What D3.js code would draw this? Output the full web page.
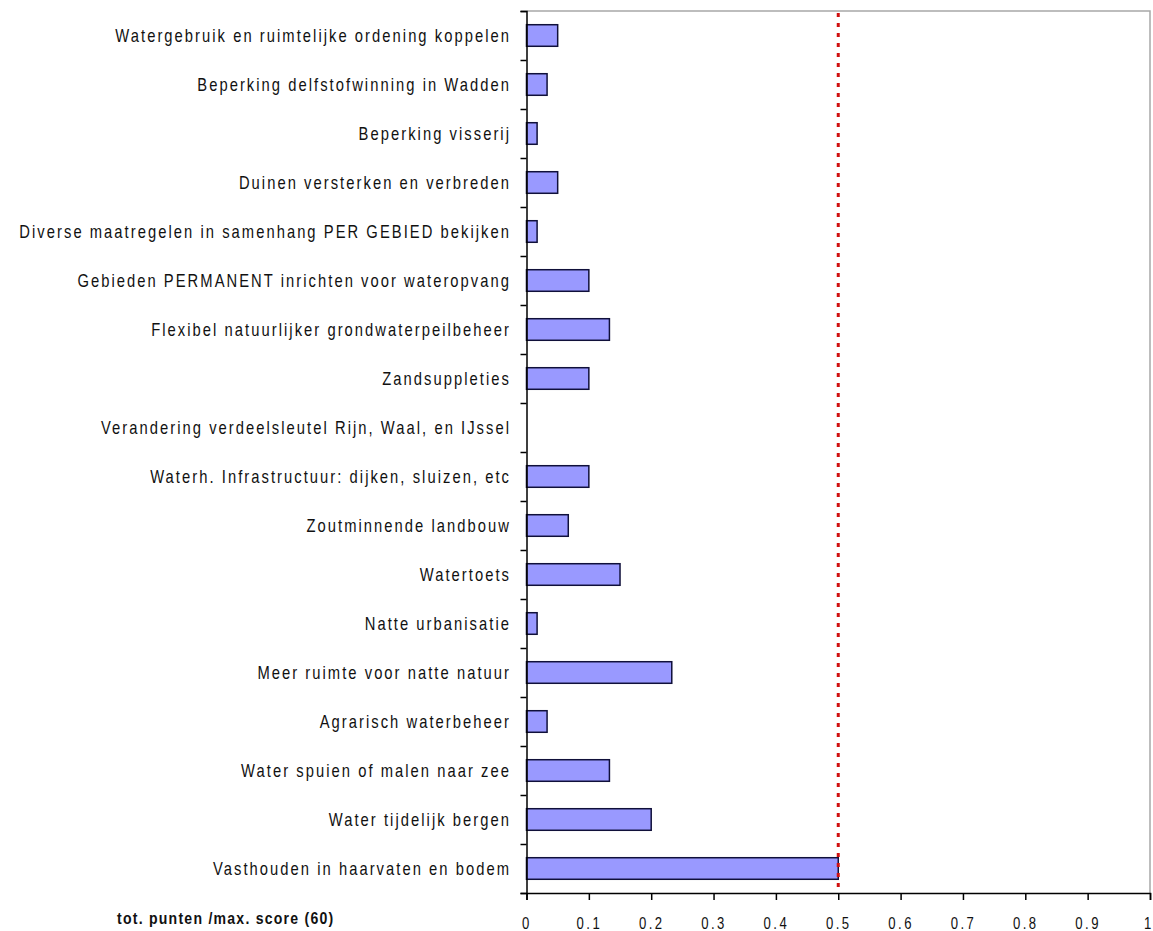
<!DOCTYPE html>
<html>
<head>
<meta charset="utf-8">
<script src="https://cdn.jsdelivr.net/npm/d3@7"></script>
<style>
  body { margin: 0; background: #fff; }
  svg { display: block; }
</style>
</head>
<body>
<div id="chart"></div>
<script>
// categories top to bottom, scores as fraction of max score (60)
const categories = [
  'Watergebruik en ruimtelijke ordening koppelen',
  'Beperking delfstofwinning in Wadden',
  'Beperking visserij',
  'Duinen versterken en verbreden',
  'Diverse maatregelen in samenhang PER GEBIED bekijken',
  'Gebieden PERMANENT inrichten voor wateropvang',
  'Flexibel natuurlijker grondwaterpeilbeheer',
  'Zandsuppleties',
  'Verandering verdeelsleutel Rijn, Waal, en IJssel',
  'Waterh. Infrastructuur: dijken, sluizen, etc',
  'Zoutminnende landbouw',
  'Watertoets',
  'Natte urbanisatie',
  'Meer ruimte voor natte natuur',
  'Agrarisch waterbeheer',
  'Water spuien of malen naar zee',
  'Water tijdelijk bergen',
  'Vasthouden in haarvaten en bodem'
];
const values = [0.05, 0.033, 0.017, 0.05, 0.017, 0.1, 0.133, 0.1, 0, 0.1, 0.067, 0.15, 0.017, 0.233, 0.033, 0.133, 0.2, 0.5];
const xTicks = [0, 0.1, 0.2, 0.3, 0.4, 0.5, 0.6, 0.7, 0.8, 0.9, 1];
const tickLabels = ['0', '0.1', '0.2', '0.3', '0.4', '0.5', '0.6', '0.7', '0.8', '0.9', '1'];
const refLine = 0.5;
const axisTitle = 'tot. punten /max. score (60)';

const width = 1153, height = 931;
const margin = { top: 11, right: 3, bottom: 38, left: 526.5 };
const font = '"Liberation Sans", Arial, sans-serif';

const svg = d3.select('#chart').append('svg')
  .attr('width', width)
  .attr('height', height);

const x = d3.scaleLinear()
  .domain([0, 1])
  .range([margin.left, width - margin.right]);

const y = d3.scaleBand()
  .domain(categories)
  .range([margin.top, height - margin.bottom])
  .paddingInner(0.56)
  .paddingOuter(0.28);

// plot frame (top and right in grey)
svg.append('path')
  .attr('d', `M${x(0)},${margin.top}H${x(1)}V${height - margin.bottom}`)
  .attr('fill', 'none')
  .attr('stroke', '#a8a8a8')
  .attr('stroke-width', 1.5);

// bars
svg.selectAll('rect.bar')
  .data(values)
  .enter()
  .append('rect')
  .attr('class', 'bar')
  .attr('x', x(0))
  .attr('y', (d, i) => y(categories[i]))
  .attr('width', d => x(d) - x(0))
  .attr('height', y.bandwidth())
  .attr('fill', '#9999ff')
  .attr('stroke', d => d > 0 ? '#10103a' : 'none')
  .attr('stroke-width', 1.5);

// reference line
svg.append('line')
  .attr('x1', x(refLine)).attr('x2', x(refLine))
  .attr('y1', margin.top + 2).attr('y2', height - margin.bottom)
  .attr('stroke', '#d01010')
  .attr('stroke-width', 3)
  .attr('stroke-dasharray', '4,6');

// left axis: ticks at band boundaries
const yb = d3.scaleLinear().domain([0, categories.length]).range([margin.top, height - margin.bottom]);
const leftAxis = svg.append('g')
  .attr('transform', `translate(${x(0)},0)`)
  .call(d3.axisLeft(yb).tickValues(d3.range(categories.length + 1)).tickSize(6).tickFormat(''));
leftAxis.select('.domain').attr('stroke', '#000').attr('stroke-width', 1.5);
leftAxis.selectAll('.tick line').attr('stroke', '#000').attr('stroke-width', 1.5);

// category labels (narrow, widely spaced like the original)
svg.selectAll('text.cat')
  .data(categories)
  .enter()
  .append('text')
  .attr('class', 'cat')
  .attr('transform', d => `translate(511,${y(d) + y.bandwidth() / 2}) scale(0.82,1)`)
  .attr('dy', '0.36em')
  .attr('text-anchor', 'end')
  .style('font-family', font)
  .style('font-size', '18px')
  .style('letter-spacing', '2.5px')
  .style('fill', '#111')
  .text(d => d);

// bottom axis
const bottomAxis = svg.append('g')
  .attr('transform', `translate(0,${height - margin.bottom})`)
  .call(d3.axisBottom(x).tickValues(xTicks).tickSize(7).tickFormat((d, i) => tickLabels[i]));
bottomAxis.select('.domain').attr('stroke', '#000').attr('stroke-width', 1.5);
bottomAxis.selectAll('.tick line').attr('stroke', '#000').attr('stroke-width', 1.5);
bottomAxis.selectAll('.tick text')
  .attr('y', 0)
  .attr('dy', 0)
  .attr('transform', 'translate(0,36) scale(0.82,1)')
  .style('font-family', font)
  .style('font-size', '16px')
  .style('letter-spacing', '3px')
  .style('fill', '#111');
// keep the last label inside the picture
bottomAxis.selectAll('.tick text')
  .filter(d => d === 1)
  .attr('text-anchor', 'end')
  .attr('x', 4);

// axis title
svg.append('text')
  .attr('transform', 'translate(117,924) scale(0.88,1)')
  .style('font-family', font)
  .style('font-size', '16px')
  .style('font-weight', 'bold')
  .style('letter-spacing', '1.4px')
  .style('fill', '#111')
  .text(axisTitle);
</script>
</body>
</html>
